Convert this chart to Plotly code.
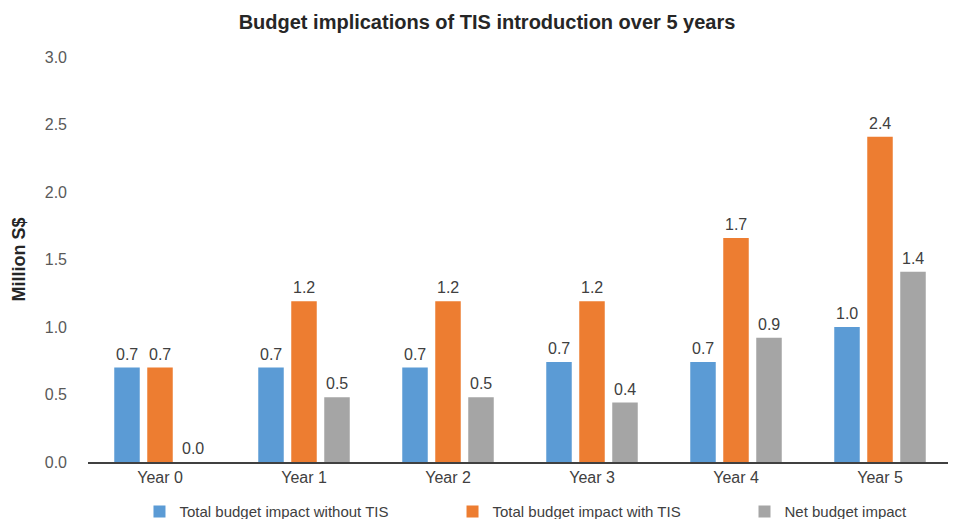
import plotly.graph_objects as go

categories = ["Year 0", "Year 1", "Year 2", "Year 3", "Year 4", "Year 5"]
without_tis = [0.70, 0.70, 0.70, 0.74, 0.74, 1.00]
with_tis = [0.70, 1.19, 1.19, 1.19, 1.66, 2.41]
net_impact = [0.00, 0.48, 0.48, 0.44, 0.92, 1.41]
series_names = ["Total budget impact without TIS", "Total budget impact with TIS", "Net budget impact"]
colors = ["#5B9BD5", "#ED7D31", "#A5A5A5"]
y_ticks = [0.0, 0.5, 1.0, 1.5, 2.0, 2.5, 3.0]

FONT = "Liberation Sans, Arial, sans-serif"
fig = go.Figure()
all_series = [without_tis, with_tis, net_impact]
legend_ids = ["legend", "legend2", "legend3"]
legend_x = [0.1387, 0.4689, 0.7769]
for name, vals, col, lg in zip(series_names, all_series, colors, legend_ids):
    fig.add_trace(go.Bar(x=categories, y=vals, name=name, marker=dict(color=col, line=dict(width=0)),
                         hoverinfo="skip", legend=lg))

# value labels above bars
offsets = [-33, 0, 33]
for vals, dx in zip(all_series, offsets):
    for c, v in zip(categories, vals):
        fig.add_annotation(x=c, y=v, text=f"{v:.1f}", showarrow=False, xshift=dx, yshift=3,
                           yanchor="bottom", font=dict(family=FONT, size=16, color="#404040"))

legend_common = dict(orientation="h", xanchor="left", xref="container", yref="container", y=0.0143,
                     yanchor="middle", itemwidth=30, font=dict(family=FONT, size=15, color="#404040"),
                     bgcolor="rgba(0,0,0,0)", borderwidth=0)

fig.update_layout(
    width=948, height=511,
    margin=dict(l=80, r=4, t=49, b=57, autoexpand=False),
    paper_bgcolor="white", plot_bgcolor="white",
    title=dict(text="<b>Budget implications of TIS introduction over 5 years</b>", x=0.5053, xanchor="center",
               yref="container", y=0.9726, yanchor="middle", font=dict(family=FONT, size=20, color="#262626")),
    barmode="group", bargap=0.3125, bargroupgap=0.227,
    showlegend=True,
    legend=dict(x=legend_x[0], **legend_common),
    legend2=dict(x=legend_x[1], **legend_common),
    legend3=dict(x=legend_x[2], **legend_common),
    font=dict(family=FONT),
)
fig.update_xaxes(showline=True, linecolor="#404040", linewidth=1.5, ticks="", showgrid=False,
                 tickfont=dict(family=FONT, size=16, color="#404040"))
fig.update_yaxes(range=[0, 3.0], tickvals=y_ticks, ticktext=[f"{t:.1f}" for t in y_ticks], showgrid=False,
                 zeroline=False, showline=False, ticks="", ticklabelstandoff=20,
                 tickfont=dict(family=FONT, size=16, color="#595959"),
                 title=dict(text="<b>Million S$</b>", font=dict(family=FONT, size=18, color="#262626"), standoff=14))
fig.write_html("out.html")
